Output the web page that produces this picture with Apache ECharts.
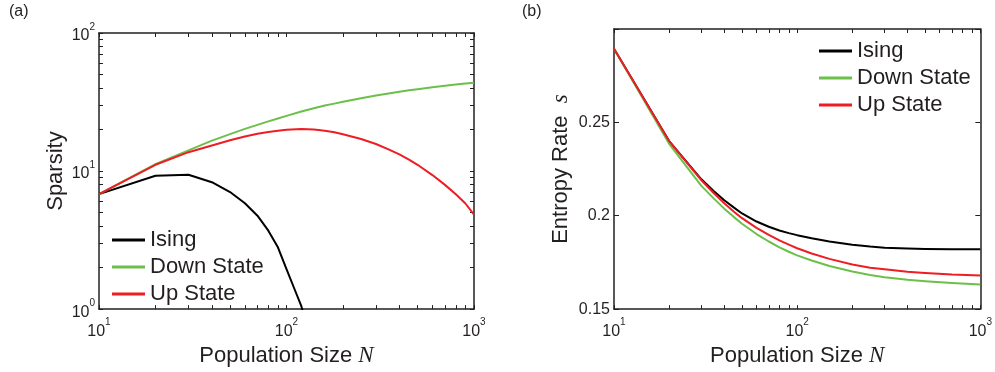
<!DOCTYPE html>
<html>
<head>
<meta charset="utf-8">
<script src="https://cdn.jsdelivr.net/npm/echarts@6/dist/echarts.min.js"></script>
<style>
  html, body { margin: 0; padding: 0; background: #fff; }
  #chart { width: 995px; height: 372px; }
</style>
</head>
<body>
<div id="chart"></div>
<script>
// (a) sparsity vs population size
const seriesNames = ['Ising', 'Down State', 'Up State']
const isingN = [10, 20, 30, 40, 50, 60, 70, 80, 90, 100, 110, 120, 130]
const isingSparsity = [6.8, 9.25, 9.4, 8.3, 7.05, 5.85, 4.75, 3.7, 2.8, 1.95, 1.41, 1.05, 0.72]
const stateN = [10, 20, 30, 40, 50, 60, 70, 80, 90, 100, 120, 140, 160, 180, 200, 250, 300, 350, 400, 450, 500, 600, 700, 800, 900, 1000]
const downSparsity = [6.8, 11.2, 14.1, 16.6, 18.5, 20.2, 21.6, 22.9, 24.0, 25.1, 27.0, 28.5, 29.8, 30.8, 31.8, 33.7, 35.2, 36.5, 37.6, 38.5, 39.2, 40.5, 41.5, 42.4, 43.1, 43.6]
const upSparsity = [6.8, 11.1, 13.7, 15.3, 16.7, 17.8, 18.6, 19.2, 19.6, 19.95, 20.2, 20.0, 19.6, 19.1, 18.5, 17.06, 15.7, 14.35, 13.2, 12.1, 11.1, 9.35, 7.94, 6.79, 5.82, 4.84]

// (b) entropy rate vs population size
const rateN = [10, 20, 30, 35, 40, 45, 50, 60, 70, 80, 90, 100, 120, 150, 200, 250, 300, 400, 500, 700, 1000]
const isingRate = [0.2894, 0.2400, 0.2195, 0.2132, 0.2083, 0.2045, 0.2012, 0.1969, 0.1941, 0.1921, 0.1907, 0.1896, 0.1879, 0.1862, 0.1845, 0.1835, 0.1829, 0.1824, 0.1822, 0.1821, 0.1820]
const downRate = [0.2894, 0.2385, 0.2160, 0.2093, 0.2038, 0.1994, 0.1957, 0.1902, 0.1862, 0.1831, 0.1807, 0.1788, 0.1760, 0.1731, 0.1701, 0.1683, 0.1671, 0.1657, 0.1649, 0.1640, 0.1632]
const upRate = [0.2894, 0.2399, 0.2190, 0.2122, 0.2067, 0.2023, 0.1987, 0.1935, 0.1897, 0.1868, 0.1845, 0.1826, 0.1798, 0.1769, 0.1739, 0.1722, 0.1713, 0.1700, 0.1693, 0.1685, 0.1680]

// tick values
const logTicksN = [10, 20, 30, 40, 50, 60, 70, 80, 90, 100, 200, 300, 400, 500, 600, 700, 800, 900, 1000]
const logLabelsN = [10, 100, 1000]
const logTicksY = [1, 2, 3, 4, 5, 6, 7, 8, 9, 10, 20, 30, 40, 50, 60, 70, 80, 90, 100]
const logLabelsY = [1, 10, 100]

const colors = ['#000000', '#6cc04a', '#ee1d23']
const ink = '#231f20'
const sans = 'Liberation Sans, Arial, sans-serif'

const pow10 = v => '{b|10}{s|' + Math.round(Math.log10(v)) + '}'
const powRich = {
  b: { fontSize: 16, fontFamily: sans, color: ink, lineHeight: 22, verticalAlign: 'bottom' },
  s: { fontSize: 10, fontFamily: sans, color: ink, verticalAlign: 'top' }
}
const axisLine = { show: true, lineStyle: { color: ink, width: 1.5 } }
const tickStyle = { color: ink, width: 1 }

function logX (gridIndex, position, withLabels) {
  return {
    type: 'log', logBase: 10, min: 10, max: 1000, gridIndex, position,
    axisLine,
    axisTick: { show: true, inside: true, length: 4, customValues: logTicksN, lineStyle: tickStyle },
    axisLabel: withLabels
      ? { show: true, margin: 8, customValues: logLabelsN, formatter: pow10, rich: powRich }
      : { show: false },
    splitLine: { show: false },
    name: withLabels ? 'Population Size {i|N}' : '',
    nameLocation: 'middle',
    nameGap: 28,
    nameTextStyle: {
      fontSize: 22, fontFamily: sans, color: ink,
      rich: { i: { fontSize: 23, fontFamily: 'Liberation Serif, serif', fontStyle: 'italic', color: ink } }
    }
  }
}

function line (name, xi, yi, xs, ys, color) {
  return {
    name, type: 'line', xAxisIndex: xi, yAxisIndex: yi, symbol: 'none',
    data: xs.map((n, i) => [n, ys[i]]),
    lineStyle: { color, width: 2, join: 'round' }, itemStyle: { color }
  }
}

const option = {
  animation: false,
  backgroundColor: '#fff',
  graphic: [
    { type: 'text', left: 9, top: 4, style: { text: '(a)', fontSize: 16, fontFamily: sans, fill: ink } },
    { type: 'text', left: 522, top: 4, style: { text: '(b)', fontSize: 16, fontFamily: sans, fill: ink } }
  ],
  grid: [
    { left: 99, top: 33, width: 375, height: 283 },
    { left: 614, top: 29, width: 370, height: 284 }
  ],
  legend: [
    {
      orient: 'vertical', left: 112, top: 229, padding: 0, itemGap: 5,
      itemWidth: 33, itemHeight: 3, icon: 'rect',
      textStyle: { fontSize: 22, fontFamily: sans, color: ink, lineHeight: 22 },
      data: seriesNames
    },
    {
      orient: 'vertical', left: 819, top: 40, padding: 0, itemGap: 5,
      itemWidth: 33, itemHeight: 3, icon: 'rect',
      textStyle: { fontSize: 22, fontFamily: sans, color: ink, lineHeight: 22 },
      data: seriesNames
    }
  ],
  xAxis: [
    logX(0, 'bottom', true),
    logX(0, 'top', false),
    logX(1, 'bottom', true),
    logX(1, 'top', false)
  ],
  yAxis: [
    {
      type: 'log', logBase: 10, min: 1, max: 100, gridIndex: 0, position: 'left',
      axisLine,
      axisTick: { show: true, inside: true, length: 4, customValues: logTicksY, lineStyle: tickStyle },
      axisLabel: { show: true, margin: 4, customValues: logLabelsY, formatter: pow10, rich: powRich },
      splitLine: { show: false },
      name: 'Sparsity', nameLocation: 'middle', nameGap: 32,
      nameTextStyle: { fontSize: 22, fontFamily: sans, color: ink }
    },
    {
      type: 'log', logBase: 10, min: 1, max: 100, gridIndex: 0, position: 'right',
      axisLine,
      axisTick: { show: true, inside: true, length: 4, customValues: logTicksY, lineStyle: tickStyle },
      axisLabel: { show: false },
      splitLine: { show: false }
    },
    {
      type: 'value', min: 0.15, max: 0.3, interval: 0.05, gridIndex: 1, position: 'left',
      axisLine,
      axisTick: { show: true, inside: true, length: 5, lineStyle: tickStyle },
      axisLabel: {
        show: true, margin: 4, fontSize: 16, fontFamily: sans, color: ink,
        formatter: v => (v > 0.29 ? '' : String(+v.toFixed(2)))
      },
      splitLine: { show: false },
      name: 'Entropy Rate  {i|s}', nameLocation: 'middle', nameGap: 42,
      nameTextStyle: {
        fontSize: 22, fontFamily: sans, color: ink,
        rich: { i: { fontSize: 23, fontFamily: 'Liberation Serif, serif', fontStyle: 'italic', color: ink } }
      }
    },
    {
      type: 'value', min: 0.15, max: 0.3, interval: 0.05, gridIndex: 1, position: 'right',
      axisLine,
      axisTick: { show: true, inside: true, length: 5, lineStyle: tickStyle },
      axisLabel: { show: false },
      splitLine: { show: false }
    }
  ],
  series: [
    line('Ising', 0, 0, isingN, isingSparsity, colors[0]),
    line('Down State', 0, 0, stateN, downSparsity, colors[1]),
    line('Up State', 0, 0, stateN, upSparsity, colors[2]),
    line('Ising', 2, 2, rateN, isingRate, colors[0]),
    line('Down State', 2, 2, rateN, downRate, colors[1]),
    line('Up State', 2, 2, rateN, upRate, colors[2])
  ]
}

const chart = echarts.init(document.getElementById('chart'))
chart.setOption(option)
window.addEventListener('resize', () => chart.resize())
</script>
</body>
</html>
